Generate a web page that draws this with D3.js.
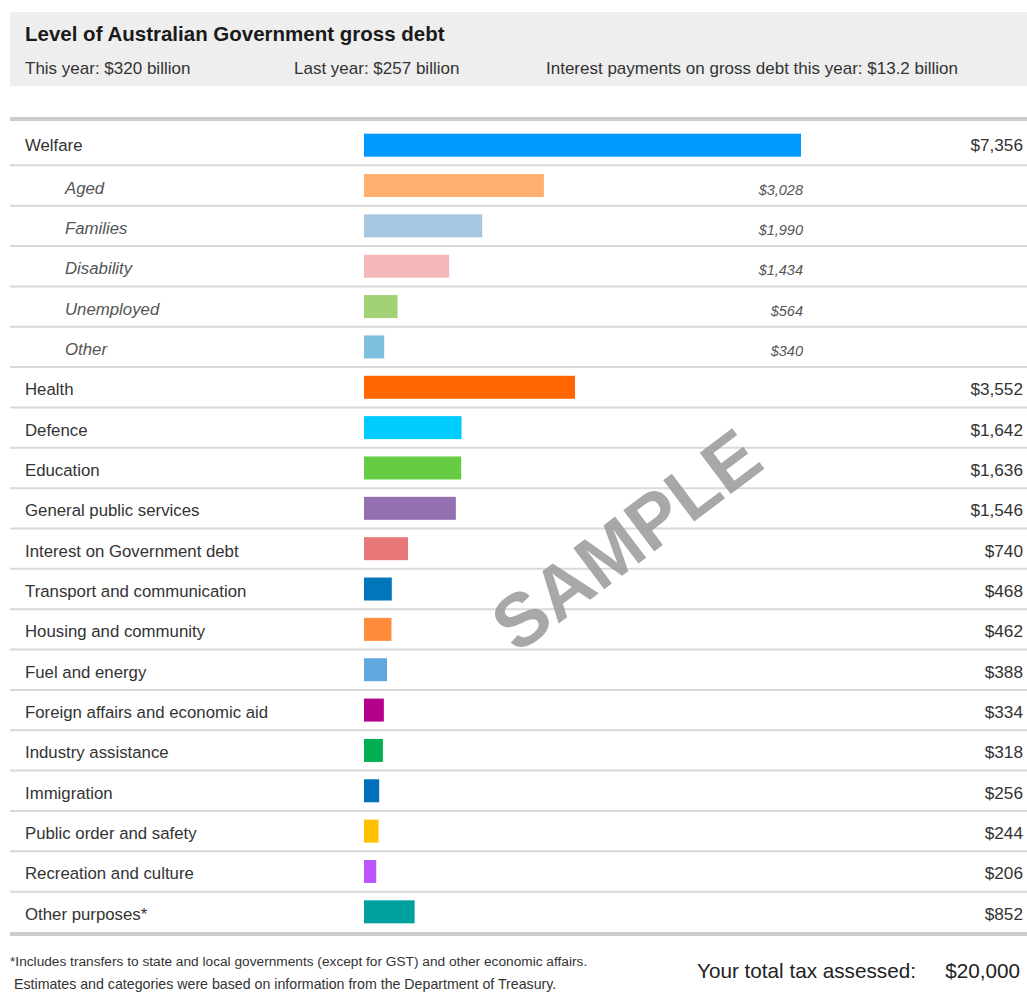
<!DOCTYPE html>
<html>
<head>
<meta charset="utf-8">
<script src="https://cdn.jsdelivr.net/npm/d3@7"></script>
<style>
  body { margin: 0; background: #fff; font-family: "Liberation Sans", Arial, sans-serif; }
</style>
</head>
<body>
<div id="viz"></div>
<script>
// categories, in display order (sub = welfare breakdown rows)
const categories = [
    "Welfare", "Aged", "Families", "Disability", "Unemployed", "Other",
    "Health", "Defence", "Education", "General public services",
    "Interest on Government debt", "Transport and communication",
    "Housing and community", "Fuel and energy",
    "Foreign affairs and economic aid", "Industry assistance",
    "Immigration", "Public order and safety", "Recreation and culture",
    "Other purposes*"
];
const amounts = [7356, 3028, 1990, 1434, 564, 340, 3552, 1642, 1636, 1546,
    740, 468, 462, 388, 334, 318, 256, 244, 206, 852];
const isSub = [false, true, true, true, true, true, false, false, false, false,
    false, false, false, false, false, false, false, false, false, false];
const colors = ["#0099ff", "#ffb070", "#a6c6e2", "#f5b8b8", "#a2d176", "#7fbfe0",
    "#ff6600", "#00ccff", "#66cc44", "#9370b0", "#e87878", "#0077bb",
    "#ff8c3a", "#60a8e0", "#b5008a", "#00b050", "#0070bb", "#ffc000",
    "#bb55ff", "#00a0a0"];

const headerStats = ["This year: $320 billion", "Last year: $257 billion",
    "Interest payments on gross debt this year: $13.2 billion"];
const footnotes = ["*Includes transfers to state and local governments (except for GST) and other economic affairs.",
    "Estimates and categories were based on information from the Department of Treasury."];
const totalTax = 20000;

const width = 1027, height = 992;
const fmt = d3.format("$,");

const rows = categories.map((c, i) => ({
    name: c, value: amounts[i], sub: isSub[i], color: colors[i]
}));

const svg = d3.select("#viz").append("svg")
    .attr("width", width)
    .attr("height", height);

// header box
svg.append("rect")
    .attr("x", 10).attr("y", 12)
    .attr("width", width - 10).attr("height", 74)
    .attr("fill", "#eeeeee");

svg.append("text")
    .attr("x", 25).attr("y", 41)
    .attr("font-size", 20.5).attr("font-weight", "bold")
    .attr("fill", "#1a1a1a")
    .text("Level of Australian Government gross debt");

const statX = [25, 294, 546];
svg.selectAll(".stat")
    .data(headerStats)
    .join("text")
        .attr("class", "stat")
        .attr("x", (d, i) => statX[i])
        .attr("y", 74)
        .attr("font-size", 17)
        .attr("fill", "#333")
        .text(d => d);

const tableTop = 125, tableBottom = 932;

const yScale = d3.scaleBand()
    .domain(categories)
    .range([tableTop, tableBottom])
    .paddingInner(0);

const xScale = d3.scaleLinear()
    .domain([0, d3.max(amounts)])
    .range([364, 801]);

// row separators
svg.selectAll(".sep")
    .data(categories.slice(1))
    .join("line")
        .attr("class", "sep")
        .attr("x1", 10).attr("x2", width)
        .attr("y1", d => yScale(d)).attr("y2", d => yScale(d))
        .attr("stroke", "#d9d9d9").attr("stroke-width", 2);

// thick top / bottom rules
svg.selectAll(".rule")
    .data([tableTop - 8, tableBottom])
    .join("rect")
        .attr("class", "rule")
        .attr("x", 10).attr("width", width - 10)
        .attr("y", d => d).attr("height", 4)
        .attr("fill", "#cccccc");

const gRow = svg.selectAll(".row")
    .data(rows)
    .join("g")
        .attr("class", "row")
        .attr("transform", d => `translate(0,${yScale(d.name) + yScale.bandwidth() / 2})`);

gRow.append("rect")
    .attr("x", xScale(0))
    .attr("y", -11.5)
    .attr("height", 23)
    .attr("width", d => xScale(d.value) - xScale(0))
    .attr("fill", d => d.color);

gRow.append("text")
    .attr("x", d => d.sub ? 65 : 25)
    .attr("y", (d, i) => i === 0 ? 6 : 8)
    .attr("font-size", 16.8)
    .attr("font-style", d => d.sub ? "italic" : null)
    .attr("fill", d => d.sub ? "#555" : "#333")
    .text(d => d.name);

gRow.append("text")
    .attr("x", d => d.sub ? 803 : 1023)
    .attr("y", (d, i) => d.sub ? 9 : (i === 0 ? 6 : 8))
    .attr("text-anchor", "end")
    .attr("font-size", d => d.sub ? 14.5 : 17.2)
    .attr("font-style", d => d.sub ? "italic" : null)
    .attr("fill", d => d.sub ? "#555" : "#333")
    .text(d => fmt(d.value));

// watermark
svg.append("text")
    .attr("transform", "translate(630,545) rotate(-37)")
    .attr("text-anchor", "middle")
    .attr("dominant-baseline", "middle")
    .attr("font-size", 75)
    .attr("font-weight", "bold")
    .attr("fill", "#999")
    .attr("fill-opacity", 0.85)
    .text("SAMPLE");

// footer
svg.selectAll(".foot")
    .data(footnotes)
    .join("text")
        .attr("class", "foot")
        .attr("x", (d, i) => i === 0 ? 10 : 14)
        .attr("y", (d, i) => 966 + i * 23)
        .attr("font-size", (d, i) => i === 0 ? 13.7 : 14.2)
        .attr("fill", "#333")
        .text(d => d);

svg.append("text")
    .attr("x", 697).attr("y", 978)
    .attr("font-size", 20.7)
    .attr("fill", "#222")
    .text("Your total tax assessed:");

svg.append("text")
    .attr("x", 1020).attr("y", 978)
    .attr("text-anchor", "end")
    .attr("font-size", 20.7)
    .attr("fill", "#222")
    .text(fmt(totalTax));
</script>
</body>
</html>
